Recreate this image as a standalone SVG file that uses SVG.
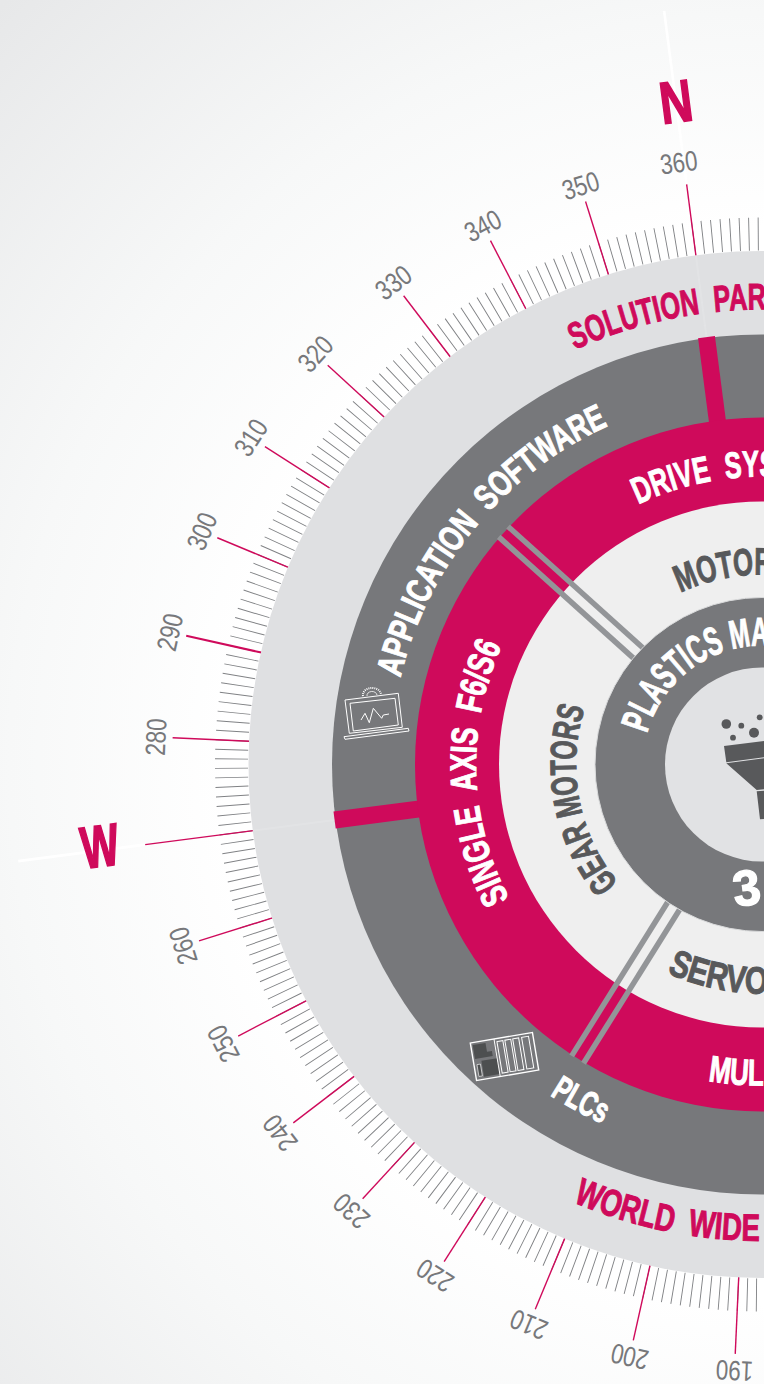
<svg xmlns="http://www.w3.org/2000/svg" width="764" height="1384" viewBox="0 0 764 1384">
<style>
text{font-family:"Liberation Sans Narrow","Liberation Sans",sans-serif;white-space:pre}
.b{font-weight:700;stroke-width:1}
.r{stroke:#cf0a5b;stroke-width:1.4;fill:none}
.deg{font-size:28px;fill:#77787b;text-anchor:middle}
.w{fill:#fff;stroke:#fff}.m{fill:#cf0a5b;stroke:#cf0a5b}.d{fill:#58595b;stroke:#58595b}
.ic{fill:none;stroke:#fff;stroke-width:1}
.sp{stroke:#939598;stroke-width:5.5;fill:none}
</style>
<defs>
<radialGradient id="bg" gradientUnits="userSpaceOnUse" cx="762" cy="765" r="1075">
<stop offset="0.5" stop-color="#fff"/><stop offset="0.7" stop-color="#f7f8f8"/><stop offset="1" stop-color="#e7e8e9"/>
</radialGradient>
<path id="c455" d="M762,1219.5A455,455 0 1 1 762,309.5A455,455 0 1 1 762,1219.5"/>
<path id="c372" d="M762,1136.5A372,372 0 1 1 762,392.5A372,372 0 1 1 762,1136.5"/>
<path id="c288" d="M762,1052.5A288,288 0 1 1 762,476.5A288,288 0 1 1 762,1052.5"/>
<path id="c286" d="M762,1050.5A286,286 0 1 1 762,478.5A286,286 0 1 1 762,1050.5"/>
<path id="c186" d="M762,950.5A186,186 0 1 1 762,578.5A186,186 0 1 1 762,950.5"/>
<path id="c190" d="M762,954.5A190,190 0 1 1 762,574.5A190,190 0 1 1 762,954.5"/>
<path id="c119" d="M762,883.5A119,119 0 1 1 762,645.5A119,119 0 1 1 762,883.5"/>
<path id="a229" d="M762,535.5A229,229 0 1 0 762,993.5A229,229 0 1 0 762,535.5"/>
<path id="a321" d="M762,443.5A321,321 0 1 0 762,1085.5A321,321 0 1 0 762,443.5"/>
<path id="a393" d="M762,371.5A393,393 0 1 0 762,1157.5A393,393 0 1 0 762,371.5"/>
<path id="a476" d="M762,288A476.5,476.5 0 1 0 762,1241A476.5,476.5 0 1 0 762,288"/>
</defs>
<rect width="764" height="1384" fill="url(#bg)"/>
<g id="scale">
<circle cx="762" cy="764.5" r="530.5" fill="none" stroke="#808285" stroke-width="33" pathLength="360" stroke-dasharray="0.1 0.9" stroke-dashoffset="0.05" transform="rotate(-7.4 762 764.5)"/>
<g transform="translate(762 764.5) rotate(-7.4)">
<line y1="-585" y2="-760" stroke="#fff" stroke-width="2.6"/>
<line x1="-622" x2="-750" stroke="#fff" stroke-width="2.6"/>
<g class="r">
<line y1="-513" y2="-585"/>
<line y1="-513" y2="-590" transform="rotate(-10)"/>
<line y1="-513" y2="-590" transform="rotate(-20)"/>
<line y1="-513" y2="-590" transform="rotate(-30)"/>
<line y1="-513" y2="-590" transform="rotate(-40)"/>
<line y1="-513" y2="-590" transform="rotate(-50)"/>
<line y1="-513" y2="-590" transform="rotate(-60)"/>
<line y1="-513" y2="-590" transform="rotate(-70)" stroke-width="2"/>
<line y1="-513" y2="-590" transform="rotate(-80)"/>
<line y1="-513" y2="-622" transform="rotate(-90)"/>
<line y1="-513" y2="-590" transform="rotate(-100)"/>
<line y1="-513" y2="-590" transform="rotate(-110)"/>
<line y1="-513" y2="-590" transform="rotate(-120)"/>
<line y1="-513" y2="-590" transform="rotate(-130)"/>
<line y1="-513" y2="-590" transform="rotate(-140)"/>
<line y1="-513" y2="-590" transform="rotate(-150)"/>
<line y1="-513" y2="-590" transform="rotate(-160)"/>
<line y1="-513" y2="-590" transform="rotate(-170)"/>
</g>
<text class="deg" transform="translate(-5 -598) scale(.8 1)">360</text>
<text class="deg" transform="rotate(-10) translate(0 -597) scale(.8 1)">350</text>
<text class="deg" transform="rotate(-20) translate(0 -597) scale(.8 1)">340</text>
<text class="deg" transform="rotate(-30) translate(0 -597) scale(.8 1)">330</text>
<text class="deg" transform="rotate(-40) translate(0 -597) scale(.8 1)">320</text>
<text class="deg" transform="rotate(-50) translate(0 -597) scale(.8 1)">310</text>
<text class="deg" transform="rotate(-60) translate(0 -597) scale(.8 1)">300</text>
<text class="deg" transform="rotate(-70) translate(0 -597) scale(.8 1)">290</text>
<text class="deg" transform="rotate(-80) translate(0 -597) scale(.8 1)">280</text>
<text class="deg" transform="rotate(-100) translate(0 -597) scale(.8 1)">260</text>
<text class="deg" transform="rotate(-110) translate(0 -597) scale(.8 1)">250</text>
<text class="deg" transform="rotate(-120) translate(0 -597) scale(.8 1)">240</text>
<text class="deg" transform="rotate(-130) translate(0 -597) scale(.8 1)">230</text>
<text class="deg" transform="rotate(-140) translate(0 -597) scale(.8 1)">220</text>
<text class="deg" transform="rotate(-150) translate(0 -597) scale(.8 1)">210</text>
<text class="deg" transform="rotate(-160) translate(0 -597) scale(.8 1)">200</text>
<text class="deg" transform="rotate(-170) translate(0 -597) scale(.8 1)">190</text>
<text class="b m" font-size="59" text-anchor="middle" style="stroke-width:1.8" transform="translate(0 -648) scale(.76 1)">N</text>
<text class="b m" font-size="59" text-anchor="middle" style="stroke-width:1.8" transform="translate(-667 16) scale(.68 1)">W</text>
</g>
</g>
<g id="ring-outer">
<circle cx="762" cy="764.5" r="513.5" fill="#dfe0e2"/>
<text class="b m" font-size="37"><textPath href="#c455" startOffset="43.25%" textLength="197" lengthAdjust="spacingAndGlyphs">SOLUTION  PAR</textPath></text>
<text class="b m" font-size="38"><textPath href="#a476" startOffset="43.5%" textLength="192" lengthAdjust="spacingAndGlyphs">WORLD  WIDE</textPath></text>
</g>
<g id="ring-software">
<circle cx="762" cy="764.5" r="430" fill="#77787b"/>
<g transform="translate(762 764.5) rotate(-7.4)"><rect x="-8.5" y="-431" width="17" height="88" fill="#cf0a5b"/><rect x="-431" y="-8.5" width="88" height="17" fill="#cf0a5b"/></g>
<text class="b w" font-size="36"><textPath href="#c372" startOffset="28.75%" textLength="338" lengthAdjust="spacingAndGlyphs">APPLICATION  SOFTWARE</textPath></text>
<text class="b w" font-size="35"><textPath href="#a393" startOffset="40.92%" textLength="60" lengthAdjust="spacingAndGlyphs">PLCs</textPath></text>
</g>
<g id="icon-laptop">
<path class="ic" d="M345,700L398.3,693.3L402.3,727.3L349.3,733.3ZM350,703.3L395,698.3L398.3,725L353.3,731ZM344,736.7L408.3,728.3L409,731L345,739.3Z"/>
<path class="ic" d="M361,720L365,713.3L369.3,722.7L373.3,708.3L381.7,718.3L383.3,715L389,714"/>
<path class="ic" style="stroke-width:2;stroke-dasharray:1 1" d="M363,696A9,7 0 0 1 381,694"/>
<path class="ic" style="stroke-width:.8" d="M367,696A5,4 0 0 1 377,695"/>
</g>
<g id="icon-plc" transform="rotate(-9.5 504.5 1056.5)">
<rect x="473" y="1037.5" width="63" height="38" fill="none" stroke="#fff" stroke-width="1.4"/>
<path d="M475,1040H488V1049H493V1054H475Z" fill="#4d4f50"/>
<rect x="481" y="1057" width="16" height="16" fill="#4d4f50"/>
<rect x="476" y="1060" width="3.5" height="12" fill="#4d4f50" stroke="#fff" stroke-width=".6"/>
<path d="M497,1037.5V1075.5" class="ic"/>
<rect x="499.5" y="1040.5" width="6" height="32" class="ic"/>
<rect x="507.5" y="1040.5" width="6" height="32" class="ic"/>
<rect x="515.5" y="1040.5" width="6" height="32" class="ic"/>
<rect x="524.5" y="1040.5" width="7" height="32" class="ic"/>
</g>
<g id="ring-drive">
<circle cx="762" cy="764.5" r="347" fill="#cf0a5b"/>
<text class="b w" font-size="37"><textPath href="#c288" startOffset="42.94%" textLength="142" lengthAdjust="spacingAndGlyphs">DRIVE  SYS</textPath></text>
<text class="b w" font-size="37"><textPath href="#c286" startOffset="17.22%" textLength="262" lengthAdjust="spacingAndGlyphs">SINGLE  AXIS  F6/S6</textPath></text>
<text class="b w" font-size="37"><textPath href="#a321" startOffset="47.3%" textLength="56" lengthAdjust="spacingAndGlyphs">MUL</textPath></text>
</g>
<g id="ring-motors">
<circle cx="762" cy="764.5" r="263" fill="#efefef"/>
<text class="b d" font-size="37"><textPath href="#c186" startOffset="14%" textLength="186" lengthAdjust="spacingAndGlyphs">GEAR MOTORS</textPath></text>
<text class="b d" font-size="38"><textPath href="#c190" startOffset="42.94%" textLength="95" lengthAdjust="spacingAndGlyphs">MOTOR</textPath></text>
<text class="b d" font-size="38"><textPath href="#a229" startOffset="43.17%" textLength="104" lengthAdjust="spacingAndGlyphs">SERVO</textPath></text>
</g>
<g id="connectors">
<g transform="translate(762 764.5) rotate(-48)" class="sp"><line x1="-7" x2="-7" y1="-166" y2="-348"/><line x1="7" x2="7" y1="-166" y2="-348"/></g>
<g transform="translate(762 764.5) rotate(-148)" class="sp"><line x1="-7" x2="-7" y1="-166" y2="-348"/><line x1="7" x2="7" y1="-166" y2="-348"/></g>
</g>
<g id="ring-plastics">
<circle cx="762" cy="764.5" r="167" fill="#77787b" stroke="#d9dadb" stroke-width="1"/>
<text class="b w" font-size="40"><textPath href="#c119" startOffset="29.2%" textLength="162" lengthAdjust="spacingAndGlyphs">PLASTICS MA</textPath></text>
<text class="b w" font-size="50" transform="rotate(-7.4 748 905)" x="735" y="905" style="stroke-width:1.2">3</text>
</g>
<g id="core">
<circle cx="762" cy="764.5" r="97" fill="#e1e2e4"/>
<path fill="#58595b" d="M724,746L764,741V757.3L726.3,762.3ZM726.3,763.3L764,758.3V789.3L756.7,790ZM756.7,791.3L764,790.7V819L760,819.3Z"/>
<g fill="#58595b"><circle cx="726.3" cy="724" r="4.8"/><circle cx="741.3" cy="725.7" r="2.9"/><circle cx="733" cy="737.7" r="2.9"/><circle cx="754" cy="732.7" r="5"/><circle cx="759.7" cy="717.3" r="2.9"/></g>
</g>
<g id="axis-sheen" stroke="#fff" stroke-opacity=".12" stroke-width="2" transform="translate(762 764.5) rotate(-7.4)">
<line y1="-431" y2="-513"/><line x1="-431" x2="-513"/>
</g>
</svg>
